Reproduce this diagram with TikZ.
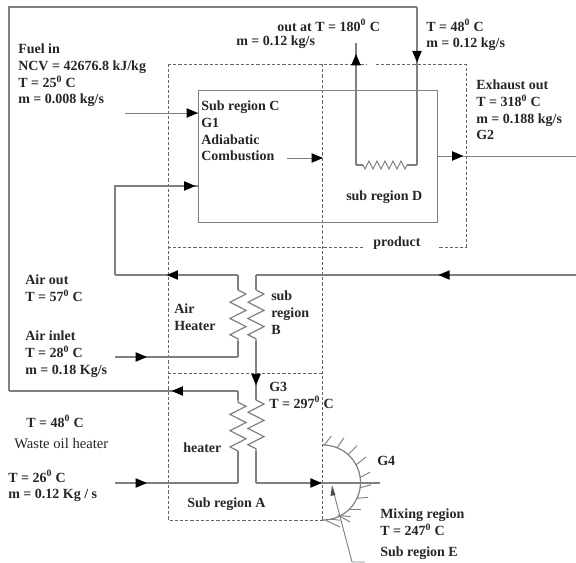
\documentclass[tikz,border=0pt]{standalone}
\usepackage{fontspec}
\setmainfont{Liberation Serif}
\usetikzlibrary{decorations.pathmorphing,decorations.markings}
\tikzset{
  pipe/.style={draw=black!50, line width=0.9pt},
  thin pipe/.style={draw=black!50, line width=0.7pt},
  region/.style={draw=black!60, line width=0.65pt, dash pattern=on 2.4pt off 1.5pt},
  label/.style={anchor=north west, inner sep=0pt, align=left, text=black!85,
    font=\bfseries\fontsize{10.5}{12.5}\selectfont},
  flow/.style={postaction={draw=none, decorate}, decoration={markings,
    mark=at position #1 with {\fill[black] (-8.5pt,-3.6pt) -- (0pt,0pt) -- (-8.5pt,3.6pt) -- cycle;}}},
  coil/.style={decorate, decoration={zigzag, segment length=12.2pt, amplitude=6pt}},
  tinycoil/.style={decorate, decoration={zigzag, segment length=6pt, amplitude=3pt}},
  hatch/.style={draw=black!50, line width=0.7pt}
}
\newcommand{\dg}{\textsuperscript{0}}
\begin{document}
\begin{tikzpicture}[x=0.75pt,y=-0.75pt]
  \useasboundingbox (0,0) rectangle (576,563);

  % sub regions
  \draw[region] (168,64) -- (366,64) (376,64) -- (466,64) -- (466,247) -- (438,247)
    (363,247) -- (168,247);
  \draw[region] (168,64) -- (168,520) -- (323,520);
  \draw[region] (322,64) -- (322,520);
  \draw[region] (168,373) -- (322,373);

  % combustor
  \node[draw=black!50, line width=0.9pt, minimum width=179.25pt, minimum height=99pt,
    inner sep=0pt, anchor=north west] (combustor) at (198,90) {};

  % junction points
  \coordinate (fuel) at (125,113);
  \coordinate (airtop) at (115,186);
  \coordinate (aircorner) at (115,275);
  \coordinate (airstart) at (115,357);
  \coordinate (ahl) at (238,357);
  \coordinate (ahlb) at (238,341);
  \coordinate (ahlt) at (238,290);
  \coordinate (ahltop) at (238,275);
  \coordinate (exright) at (576,275);
  \coordinate (ahrtop) at (256,275);
  \coordinate (ahrt) at (256,290);
  \coordinate (ahrb) at (256,341);
  \coordinate (whrt) at (256,400);
  \coordinate (whrb) at (256,451);
  \coordinate (whrbot) at (256,483);
  \coordinate (mixend) at (380,483);
  \coordinate (oilin) at (115,483);
  \coordinate (whlbot) at (238,483);
  \coordinate (whlb) at (238,451);
  \coordinate (whlt) at (238,400);
  \coordinate (whltop) at (238,391);
  \coordinate (oilleft) at (9,391);
  \coordinate (oilcorner) at (9,7);
  \coordinate (oiltop) at (417,7);
  \coordinate (sdr) at (417,165);
  \coordinate (sdrz) at (407,165);
  \coordinate (sdlz) at (363,165);
  \coordinate (sdl) at (356,165);
  \coordinate (sdout) at (356,43);
  \coordinate (gasa) at (287,158);
  \coordinate (gasb) at (323,158);
  \coordinate (exa) at (437,156);
  \coordinate (exb) at (576,156);

  % fuel and air
  \draw[thin pipe, flow=1] (fuel) -- (198,113);
  \draw[pipe, flow=0.985] (aircorner) -- (airtop) -- (198,186);
  \draw[pipe, flow=0.58] (ahltop) -- (aircorner);
  \draw[pipe] (ahltop) -- (ahlt);
  \draw[pipe, coil] (ahlt) -- (ahlb);
  \draw[pipe] (ahlb) -- (ahl);
  \draw[pipe, flow=0.26] (airstart) -- (ahl);

  % hot gas
  \draw[pipe, flow=0.43] (exright) -- (ahrtop);
  \draw[pipe] (ahrtop) -- (ahrt);
  \draw[pipe, coil] (ahrt) -- (ahrb);
  \draw[pipe, flow=0.75] (ahrb) -- (whrt);
  \draw[pipe, coil] (whrt) -- (whrb);
  \draw[pipe] (whrb) -- (whrbot);
  \draw[pipe, flow=0.53] (whrbot) -- (mixend);
  \draw[thin pipe, flow=1] (gasa) -- (gasb);
  \draw[thin pipe, flow=0.19] (exa) -- (exb);

  % waste oil loop
  \draw[pipe, flow=0.26] (oilin) -- (whlbot);
  \draw[pipe] (whlbot) -- (whlb);
  \draw[pipe, coil] (whlb) -- (whlt);
  \draw[pipe] (whlt) -- (whltop);
  \draw[pipe, flow=0.29] (whltop) -- (oilleft);
  \draw[pipe] (oilleft) -- (oilcorner) -- (oiltop);
  \draw[pipe, flow=0.35] (oiltop) -- (sdr);
  \draw[pipe] (sdr) -- (sdrz);
  \draw[thin pipe, tinycoil] (sdrz) -- (sdlz);
  \draw[pipe] (sdlz) -- (sdl);
  \draw[pipe, flow=0.91] (sdl) -- (sdout);

  % mixing region wall
  \draw[pipe] (323,445) arc (-90:90:37.5);
  \foreach \ang/\dx/\dy in {-88/7/-9, -68/7/-10, -48/9/-9, -28/10/-8, -8/10/-5,
      8/11/-3, 25/11/-1, 45/11/0, 62/10/1, 78/9/1}
    \draw[hatch] ([shift={(\ang:37.5)}]323,482.5) -- ++(\dx,\dy);
  \draw[hatch] (325,520) -- (340,527);
  \draw[hatch] (338,515) -- (350,522);
  \coordinate (leadb) at (352,562);
  \coordinate (leadc) at (365,562);
  \coordinate (leada) at (332,486);
  \draw[thin pipe] (leadc) -- (leadb) -- (leada);
  \fill[black!70] (leada) -- (335.5,495) -- (330.5,496) -- cycle;

  % labels
  \node[label] (fuellabel) at (18,44) {Fuel in\\NCV = 42676.8 kJ/kg\\T = 25\dg{} C\\m = 0.008 kg/s};
  \node[label] (outlabel) at (277,19) {out at T = 180\dg{} C};
  \node[label] (outmlabel) at (236,36) {m = 0.12 kg/s};
  \node[label] (inlabel) at (426,19) {T = 48\dg{} C\\m = 0.12 kg/s};
  \node[label] (exhaustlabel) at (476,80) {Exhaust out\\T = 318\dg{} C\\m = 0.188 kg/s\\G2};
  \node[label] (clabel) at (201,101) {Sub region C\\G1\\Adiabatic\\Combustion};
  \node[label] (dlabel) at (346,191) {sub region D};
  \node[label] (productlabel) at (373,237) {product};
  \node[label] (airoutlabel) at (25,275) {Air out\\T = 57\dg{} C};
  \node[label] (airinlabel) at (25,331) {Air inlet\\T = 28\dg{} C\\m = 0.18 Kg/s};
  \node[label] (ahlabel) at (174,304) {Air\\Heater};
  \node[label] (blabel) at (271,291) {sub\\region\\B};
  \node[label] (gthreelabel) at (269,382) {G3\\T = 297\dg{} C};
  \node[label] (oiloutlabel) at (26,415) {T = 48\dg{} C};
  \node[label, font=\fontsize{11}{12.5}\selectfont] (oillabel) at (14,438) {Waste oil heater};
  \node[label] (heaterlabel) at (183,443) {heater};
  \node[label] (oilinlabel) at (8,470) {T = 26\dg{} C\\m = 0.12 Kg / s};
  \node[label] (alabel) at (187,498) {Sub region A};
  \node[label] (gfourlabel) at (377,456) {G4};
  \node[label] (mixlabel) at (380,509) {Mixing region\\T = 247\dg{} C};
  \node[label] (elabel) at (380,547) {Sub region E};
\end{tikzpicture}
\end{document}
